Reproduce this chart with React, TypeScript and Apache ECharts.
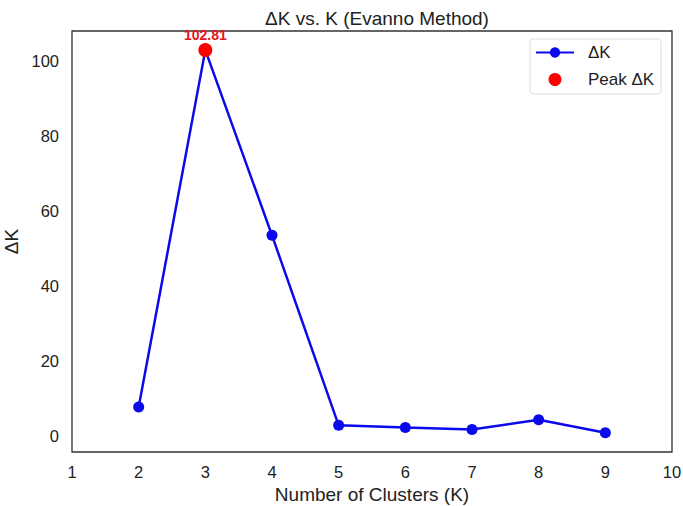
import React, { useEffect, useRef } from "react";
import * as echarts from "echarts";

const kValues = [2, 3, 4, 5, 6, 7, 8, 9];
const deltaK = [7.8, 102.81, 53.5, 2.9, 2.3, 1.8, 4.4, 0.9];
const peakK = 3;
const peakValue = 102.81;
const yTicks = [0, 20, 40, 60, 80, 100];
const font = "Liberation Sans, Arial, sans-serif";

export default function App() {
  const ref = useRef<HTMLDivElement>(null);
  useEffect(() => {
    if (!ref.current) return;
    const chart = echarts.init(ref.current, null, { renderer: "svg" });
    chart.setOption({
      animation: false,
      backgroundColor: "#fff",
      textStyle: { fontFamily: font },
      title: {
        text: "ΔK vs. K (Evanno Method)",
        left: 372,
        textAlign: "center",
        top: 4,
        textStyle: { fontFamily: font, fontSize: 19, fontWeight: "normal", color: "#222" },
      },
      grid: {
        left: 72,
        right: 11,
        top: 31,
        bottom: 54,
        containLabel: false,
        outerBoundsMode: "none",
        show: true,
        borderColor: "#333",
        borderWidth: 1.3,
        backgroundColor: "transparent",
      },
      legend: {
        left: 530,
        top: 39,
        orient: "vertical",
        itemWidth: 38,
        itemHeight: 13,
        itemGap: 10,
        padding: [5, 7, 6, 5],
        borderColor: "#ddd",
        borderWidth: 1,
        borderRadius: 3,
        textStyle: { fontFamily: font, fontSize: 17, color: "#222", padding: [0, 0, 0, 9] },
        data: [{ name: "ΔK" }, { name: "Peak ΔK", icon: "circle" }],
      },
      xAxis: {
        type: "value",
        min: 1,
        max: 10,
        interval: 1,
        name: "Number of Clusters (K)",
        nameLocation: "middle",
        nameGap: 32,
        nameTextStyle: { fontFamily: font, fontSize: 19, color: "#222" },
        axisLine: { show: false },
        axisTick: { show: false },
        splitLine: { show: false },
        axisLabel: { fontFamily: font, fontSize: 16.5, color: "#222", margin: 11 },
      },
      yAxis: {
        type: "value",
        min: -4.2,
        max: 107.9,
        name: "ΔK",
        nameLocation: "middle",
        nameGap: 42,
        nameTextStyle: { fontFamily: font, fontSize: 19, color: "#222" },
        axisLine: { show: false },
        axisTick: { show: false },
        splitLine: { show: false },
        axisLabel: {
          customValues: yTicks,
          fontFamily: font,
          fontSize: 16.5,
          color: "#222",
          margin: 13,
        },
      },
      series: [
        {
          name: "ΔK",
          type: "line",
          data: kValues.map((k, i) => [k, deltaK[i]]),
          symbol: "circle",
          symbolSize: 11,
          lineStyle: { color: "#0a0aeb", width: 2.5 },
          itemStyle: { color: "#0a0aeb" },
          z: 2,
        },
        {
          name: "Peak ΔK",
          type: "scatter",
          data: [[peakK, peakValue]],
          symbol: "circle",
          symbolSize: 14,
          itemStyle: { color: "#ff0000", opacity: 1 },
          z: 3,
          label: {
            show: true,
            position: "top",
            distance: 1,
            formatter: () => peakValue.toFixed(2),
            fontFamily: font,
            fontSize: 14,
            fontWeight: "bold",
            color: "#e8141e",
          },
        },
      ],
    });
    return () => chart.dispose();
  }, []);
  return (
    <div
      ref={ref}
      style={{ position: "fixed", left: 0, top: 0, width: 683, height: 506 }}
    />
  );
}
